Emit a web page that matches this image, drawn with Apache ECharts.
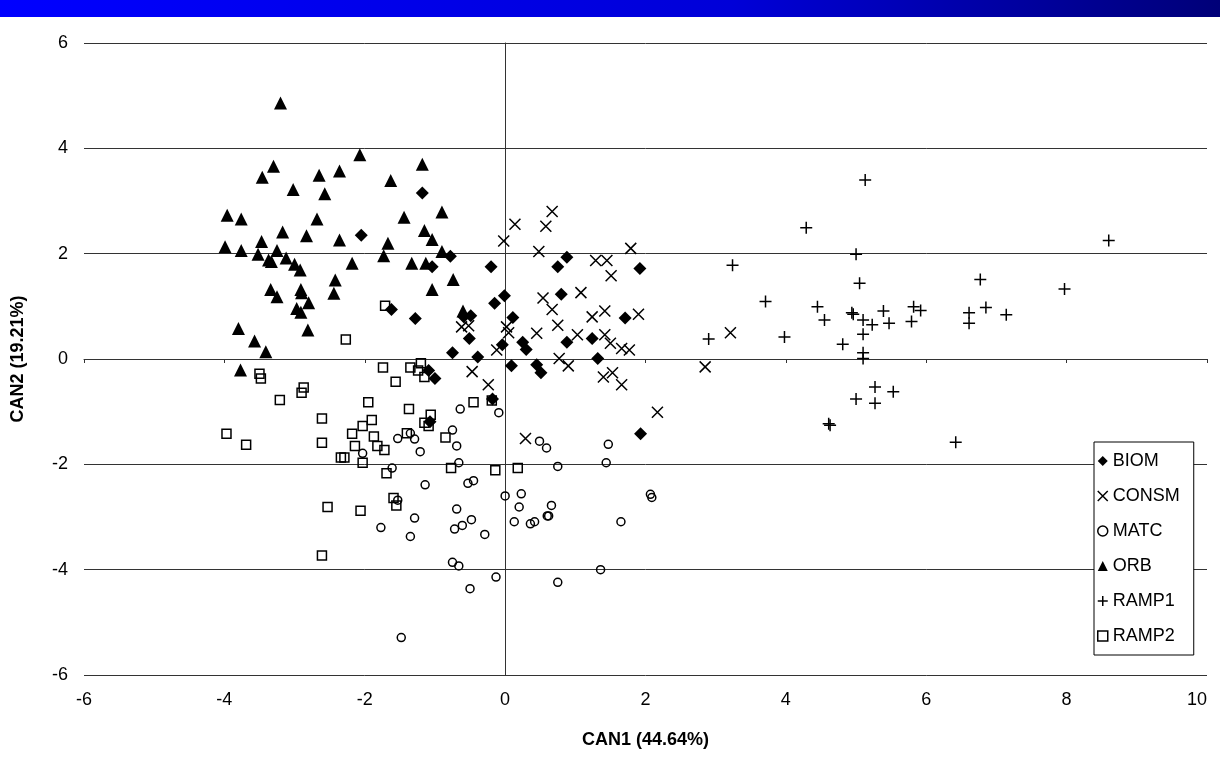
<!DOCTYPE html>
<html>
<head>
<meta charset="utf-8">
<script src="https://cdn.jsdelivr.net/npm/echarts@6/dist/echarts.min.js"></script>
<style>
html,body{margin:0;padding:0;background:#fff;}
#chart{width:1220px;height:773px;}
</style>
</head>
<body>
<div id="chart"></div>
<script>
const seriesNames = ['BIOM', 'CONSM', 'MATC', 'ORB', 'RAMP1', 'RAMP2'];
const xTicks = [-6, -4, -2, 0, 2, 4, 6, 8, 10];
const yTicks = [-6, -4, -2, 0, 2, 4, 6];
const xAxisName = 'CAN1 (44.64%)';
const yAxisName = 'CAN2 (19.21%)';

const biom = [[-1.18,3.15],[-2.05,2.35],[-1.04,1.75],[-0.78,1.95],[-0.59,0.80],[-0.49,0.82],[-1.62,0.94],[-1.28,0.77],[-1.09,-0.22],[-1.0,-0.37],[-1.07,-1.19],[-0.20,1.75],[0.88,1.93],[0.75,1.75],[1.92,1.72],[-0.01,1.20],[-0.15,1.06],[0.80,1.23],[0.11,0.79],[-0.51,0.39],[1.71,0.78],[1.24,0.39],[0.88,0.32],[0.25,0.32],[0.30,0.18],[-0.04,0.27],[-0.75,0.12],[-0.39,0.04],[1.32,0.01],[0.09,-0.13],[0.45,-0.11],[0.51,-0.26],[-0.18,-0.76],[1.93,-1.42]];
const consm = [[0.67,2.80],[0.14,2.56],[0.58,2.52],[-0.02,2.24],[0.48,2.04],[1.79,2.10],[1.29,1.87],[1.45,1.87],[1.51,1.58],[0.54,1.16],[0.67,0.94],[1.08,1.26],[1.24,0.80],[1.42,0.91],[1.90,0.85],[-0.62,0.61],[-0.52,0.63],[0.02,0.61],[0.05,0.50],[0.75,0.64],[0.45,0.49],[1.03,0.46],[1.42,0.46],[1.50,0.30],[1.66,0.20],[1.77,0.17],[-0.12,0.17],[0.77,0.01],[0.90,-0.13],[-0.47,-0.24],[1.40,-0.34],[1.53,-0.26],[-0.24,-0.49],[1.66,-0.49],[2.17,-1.01],[0.29,-1.51],[3.21,0.50],[2.85,-0.15]];
const matc = [[-2.03,-1.79],[-1.53,-1.51],[-1.35,-1.41],[-1.29,-1.52],[-1.21,-1.76],[-1.61,-2.07],[-1.14,-2.39],[-1.53,-2.68],[-1.29,-3.02],[-1.77,-3.20],[-1.35,-3.37],[-1.48,-5.29],[-0.64,-0.95],[-0.09,-1.02],[-0.75,-1.35],[-0.69,-1.65],[0.49,-1.56],[0.59,-1.69],[1.47,-1.62],[-0.66,-1.97],[0.75,-2.04],[1.44,-1.97],[-0.53,-2.36],[-0.45,-2.31],[0.0,-2.60],[0.23,-2.56],[0.20,-2.81],[0.66,-2.78],[0.60,-2.98],[0.62,-2.98],[2.07,-2.57],[2.09,-2.63],[-0.69,-2.85],[-0.48,-3.05],[-0.61,-3.16],[-0.72,-3.23],[-0.29,-3.33],[0.13,-3.09],[0.36,-3.13],[0.42,-3.09],[1.65,-3.09],[-0.75,-3.86],[-0.66,-3.93],[-0.13,-4.14],[-0.50,-4.36],[0.75,-4.24],[1.36,-4.00]];
const orb = [[-3.20,4.86],[-2.07,3.88],[-1.18,3.70],[-3.30,3.66],[-3.46,3.45],[-2.65,3.49],[-2.36,3.57],[-1.63,3.39],[-3.02,3.22],[-2.57,3.14],[-3.96,2.73],[-3.76,2.66],[-2.68,2.66],[-1.44,2.69],[-0.90,2.79],[-3.17,2.41],[-3.47,2.23],[-2.83,2.34],[-2.36,2.26],[-1.15,2.44],[-1.04,2.27],[-1.67,2.20],[-3.99,2.13],[-3.76,2.06],[-3.52,1.99],[-3.25,2.06],[-3.37,1.88],[-3.33,1.85],[-3.12,1.92],[-3.0,1.80],[-2.92,1.69],[-2.18,1.82],[-1.73,1.96],[-1.33,1.82],[-1.13,1.82],[-2.42,1.50],[-0.90,2.04],[-0.74,1.51],[-0.60,0.91],[-3.34,1.32],[-3.25,1.18],[-2.91,1.32],[-2.90,1.26],[-2.44,1.25],[-1.04,1.32],[-2.80,1.07],[-2.97,0.96],[-2.91,0.89],[-2.81,0.55],[-3.80,0.58],[-3.57,0.34],[-3.41,0.14],[-3.77,-0.21]];
const ramp1 = [[5.13,3.40],[4.29,2.49],[5.0,1.99],[3.24,1.78],[5.05,1.44],[3.71,1.09],[4.45,0.99],[4.55,0.74],[4.94,0.88],[4.96,0.85],[5.10,0.74],[5.23,0.65],[5.39,0.91],[5.47,0.68],[5.82,0.99],[5.92,0.92],[5.79,0.71],[2.90,0.38],[3.98,0.42],[4.81,0.28],[5.10,0.47],[5.10,0.12],[5.10,0.01],[5.27,-0.53],[5.53,-0.62],[5.0,-0.76],[5.27,-0.84],[4.61,-1.23],[4.63,-1.26],[8.60,2.25],[6.77,1.51],[7.97,1.33],[6.85,0.98],[7.14,0.84],[6.61,0.88],[6.61,0.68],[6.42,-1.58]];
const ramp2 = [[-1.71,1.01],[-2.27,0.37],[-1.74,-0.16],[-1.35,-0.16],[-1.20,-0.08],[-1.24,-0.22],[-1.15,-0.34],[-1.56,-0.43],[-3.50,-0.28],[-3.48,-0.37],[-2.87,-0.54],[-2.90,-0.64],[-3.21,-0.78],[-1.95,-0.82],[-1.37,-0.95],[-2.61,-1.13],[-1.90,-1.16],[-2.03,-1.27],[-1.06,-1.06],[-1.15,-1.21],[-1.09,-1.27],[-3.97,-1.42],[-3.69,-1.63],[-2.61,-1.59],[-2.18,-1.42],[-1.87,-1.47],[-1.40,-1.41],[-2.14,-1.65],[-1.82,-1.65],[-1.72,-1.73],[-2.34,-1.87],[-2.29,-1.87],[-2.03,-1.97],[-1.69,-2.17],[-1.59,-2.64],[-1.55,-2.78],[-2.53,-2.81],[-2.06,-2.88],[-2.61,-3.73],[-0.19,-0.79],[-0.45,-0.82],[-0.85,-1.49],[-0.77,-2.07],[-0.14,-2.11],[0.18,-2.07]];

const seriesData = [biom, consm, matc, orb, ramp1, ramp2];
const FONT = '"Liberation Sans", Arial, sans-serif';
const X_PATH = 'path://M0,0L10,10M10,0L0,10';
const PLUS_PATH = 'path://M5,0L5,10M0,5L10,5';

const styles = [
  { symbol: 'diamond', symbolSize: 13, itemStyle: { color: '#000', opacity: 1 } },
  { symbol: X_PATH, symbolSize: 11, itemStyle: { color: 'rgba(0,0,0,0)', borderColor: '#000', borderWidth: 1.5, opacity: 1 } },
  { symbol: 'circle', symbolSize: 8, itemStyle: { color: 'rgba(255,255,255,0)', borderColor: '#000', borderWidth: 1.5, opacity: 1 } },
  { symbol: 'triangle', symbolSize: 13, itemStyle: { color: '#000', opacity: 1 } },
  { symbol: PLUS_PATH, symbolSize: 12, itemStyle: { color: 'rgba(0,0,0,0)', borderColor: '#000', borderWidth: 1.5, opacity: 1 } },
  { symbol: 'rect', symbolSize: 9, itemStyle: { color: 'rgba(255,255,255,0)', borderColor: '#000', borderWidth: 1.5, opacity: 1 } }
];

const chart = echarts.init(document.getElementById('chart'), null, { renderer: 'canvas' });

const series = seriesNames.map((name, i) => ({
  name: name,
  type: 'scatter',
  xAxisIndex: 0,
  yAxisIndex: 0,
  data: seriesData[i],
  symbol: styles[i].symbol,
  symbolSize: styles[i].symbolSize,
  itemStyle: styles[i].itemStyle,
  emphasis: { disabled: true },
  animation: false
}));

const option = {
  backgroundColor: '#fff',
  animation: false,
  textStyle: { fontFamily: FONT },
  graphic: [{
    type: 'rect',
    left: 0, top: 0,
    shape: { width: 1220, height: 17 },
    style: {
      fill: new echarts.graphic.LinearGradient(0, 0, 1, 0, [
        { offset: 0, color: '#0000ff' },
        { offset: 0.6, color: '#0000d8' },
        { offset: 1, color: '#000078' }
      ])
    },
    silent: true
  }],
  grid: { left: 84, right: 13, top: 43, bottom: 98, containLabel: false },
  legend: {
    orient: 'vertical',
    left: 1094,
    top: 442,
    data: seriesNames.map((n, i) => ({ name: n, itemStyle: styles[i].itemStyle })),
    itemWidth: 10,
    itemHeight: 10,
    itemGap: 15,
    itemTextGap: 6,
    padding: [9, 14, 9, 3],
    borderColor: '#000',
    borderWidth: 1,
    backgroundColor: '#fff',
    textStyle: { fontFamily: FONT, fontSize: 18, color: '#000', lineHeight: 20 },
    selectedMode: false
  },
  xAxis: [{
    type: 'value',
    min: -6, max: 10, interval: 2,
    position: 'bottom',
    axisLine: { show: false, onZero: false },
    axisTick: { show: false },
    splitLine: { show: false },
    axisLabel: { fontFamily: FONT, fontSize: 18, color: '#000', margin: 16, alignMaxLabel: 'right',
      formatter: v => xTicks.indexOf(v) >= 0 ? String(v) : '' },
    name: xAxisName,
    nameLocation: 'middle',
    nameGap: 56,
    nameTextStyle: { fontFamily: FONT, fontSize: 18, fontWeight: 'bold', color: '#000' }
  }, {
    type: 'value',
    min: -6, max: 10, interval: 2,
    position: 'top',
    axisLine: { show: true, onZero: true, lineStyle: { color: '#333', width: 1 } },
    axisTick: { show: true, inside: true, length: 4, lineStyle: { color: '#333', width: 1 } },
    axisLabel: { show: false },
    splitLine: { show: false }
  }],
  yAxis: [{
    type: 'value',
    min: -6, max: 6, interval: 2,
    position: 'left',
    axisLine: { show: false, onZero: false },
    axisTick: { show: false },
    splitLine: { show: true, lineStyle: { color: '#333', width: 1 } },
    axisLabel: { fontFamily: FONT, fontSize: 18, color: '#000', margin: 16,
      formatter: v => yTicks.indexOf(v) >= 0 ? String(v) : '' },
    name: yAxisName,
    nameLocation: 'middle',
    nameGap: 57,
    nameTextStyle: { fontFamily: FONT, fontSize: 18, fontWeight: 'bold', color: '#000' }
  }, {
    type: 'value',
    min: -6, max: 6, interval: 2,
    position: 'right',
    axisLine: { show: true, onZero: true, lineStyle: { color: '#333', width: 1 } },
    axisTick: { show: true, inside: true, length: 4, lineStyle: { color: '#333', width: 1 } },
    axisLabel: { show: false },
    splitLine: { show: false }
  }],
  series: series
};
chart.setOption(option);
</script>
</body>
</html>
